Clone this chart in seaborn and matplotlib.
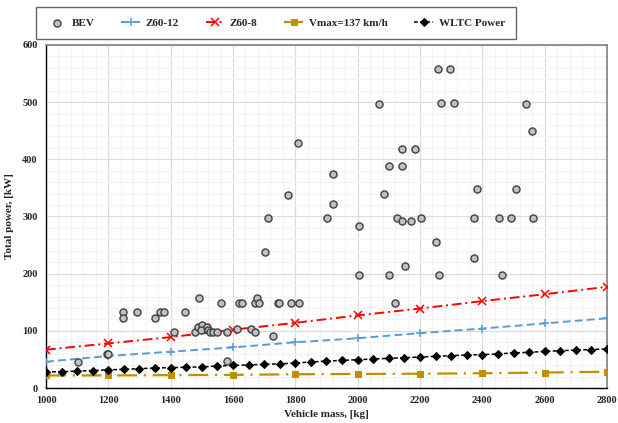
import numpy as np
import pandas as pd
import matplotlib
matplotlib.use("Agg")
import matplotlib.pyplot as plt
from matplotlib.ticker import MultipleLocator
import seaborn as sns

# ---- data ----
bev_mass = [1102, 1195, 1200, 1246, 1246, 1291, 1349, 1366, 1380, 1446, 1412, 1478,
            1491, 1489, 1502, 1498, 1516, 1519, 1527, 1535, 1548, 1562, 1580, 1580,
            1612, 1618, 1628, 1658, 1669, 1669, 1677, 1685, 1702, 1712, 1727, 1743,
            1749, 1778, 1786, 1808, 1812, 1902, 1921, 1921, 2003, 2005, 2069, 2086,
            2102, 2102, 2119, 2126, 2141, 2141, 2141, 2153, 2171, 2183, 2202, 2251,
            2257, 2262, 2268, 2297, 2308, 2372, 2372, 2383, 2452, 2463, 2492, 2509,
            2540, 2559, 2562]
bev_power = [45, 60, 60, 133, 123, 133, 123, 133, 133, 133, 98, 98,
             157, 107, 110, 102, 107, 102, 98, 98, 98, 148, 98, 47,
             104, 148, 148, 104, 98, 148, 157, 148, 238, 298, 91, 148,
             148, 338, 148, 428, 148, 298, 375, 322, 197, 284, 497, 340,
             388, 197, 148, 298, 292, 388, 418, 214, 292, 418, 298, 256,
             558, 198, 499, 558, 499, 298, 228, 348, 298, 198, 298, 348,
             497, 449, 298]

mass_200 = [1000, 1200, 1400, 1600, 1800, 2000, 2200, 2400, 2600, 2800]
z60_12 = [46, 56, 63.5, 71, 80, 87, 96, 104, 113, 122]
z60_8 = [67, 78, 89, 102, 114, 127, 139, 152, 164, 177]
vmax137 = [22, 22, 22.5, 23, 24, 24.5, 25, 25.8, 27, 28.5]

mass_50 = list(range(1000, 2801, 50))
wltc = [28, 28.6, 29.6, 30.4, 31.8, 32.7, 33.8, 35, 35.6, 36.3, 36.9, 38.4, 39.6,
        40.3, 41.4, 42.2, 43.6, 45.6, 47, 48.3, 49.5, 50.7, 51.9, 53.1, 54.2, 55.4,
        56.6, 57.7, 58.5, 59.6, 61.4, 62.4, 64, 65.2, 66.4, 67.2, 68.4]

x_ticks = list(range(1000, 2801, 200))
y_ticks = list(range(0, 601, 100))

# ---- style ----
sns.set_theme(style="white")
plt.rcParams["font.family"] = ["Liberation Serif", "DejaVu Serif"]
plt.rcParams["font.weight"] = "bold"

fig = plt.figure(figsize=(6.18, 4.23), dpi=100)
ax = fig.add_axes([46 / 618, 1 - 388 / 423, (607 - 46) / 618, (388 - 45) / 423])

ax.set_xlim(1000, 2800)
ax.set_ylim(0, 600)
ax.xaxis.set_major_locator(MultipleLocator(200))
ax.xaxis.set_minor_locator(MultipleLocator(40))
ax.yaxis.set_major_locator(MultipleLocator(100))
ax.yaxis.set_minor_locator(MultipleLocator(20))
ax.grid(which="major", color="#dcdcdc", linewidth=0.9)
ax.grid(which="minor", color="#f2f2f2", linewidth=0.7)
ax.set_axisbelow(True)

df_bev = pd.DataFrame({"mass": bev_mass, "power": bev_power})
df200 = pd.DataFrame({"mass": mass_200, "z12": z60_12, "z8": z60_8, "vmax": vmax137})
df50 = pd.DataFrame({"mass": mass_50, "wltc": wltc})

sns.lineplot(data=df200, x="mass", y="z12", ax=ax, color="#5b9bd5", linewidth=1.4,
             linestyle=(0, (4, 2.2)), marker="+", markersize=6, markeredgewidth=1.1,
             markeredgecolor="#5b9bd5", label="Z60-12", zorder=3)
sns.lineplot(data=df200, x="mass", y="z8", ax=ax, color="#ff0000", linewidth=1.4,
             linestyle=(0, (5, 2, 1, 2)), marker="x", markersize=5.5, markeredgewidth=1.1,
             markeredgecolor="#ff0000", label="Z60-8", zorder=3)
sns.lineplot(data=df200, x="mass", y="vmax", ax=ax, color="#bf9000", linewidth=1.6,
             linestyle=(0, (9, 3, 1, 3)), marker="s", markersize=4,
             markeredgecolor="#bf9000", label="Vmax=137 km/h", zorder=3)
sns.lineplot(data=df50, x="mass", y="wltc", ax=ax, color="black", linewidth=1.1,
             linestyle=(0, (2.5, 1.5)), marker="D", markersize=3.8,
             markeredgecolor="black", label="WLTC Power", zorder=4)
sns.scatterplot(data=df_bev, x="mass", y="power", ax=ax, s=26, color="#c0c0c0",
                edgecolor="#404040", linewidth=1.0, label="BEV", zorder=5)

for side in ["left", "bottom"]:
    ax.spines[side].set_color("black")
    ax.spines[side].set_linewidth(1.0)
for side in ["top", "right"]:
    ax.spines[side].set_color("#808080")
    ax.spines[side].set_linewidth(1.2)

ax.set_xticks(x_ticks)
ax.set_yticks(y_ticks)
ax.tick_params(axis="both", which="both", length=0, labelsize=7.5, pad=6)
for lab in ax.get_xticklabels() + ax.get_yticklabels():
    lab.set_fontweight("bold")
ax.set_xlabel("Vehicle mass, [kg]", fontsize=8, fontweight="bold", labelpad=4)
ax.set_ylabel("Total power, [kW]", fontsize=8, fontweight="bold", labelpad=6)
ax.xaxis.set_label_coords(0.5, -0.065)

handles, labels = ax.get_legend_handles_labels()
order = ["BEV", "Z60-12", "Z60-8", "Vmax=137 km/h", "WLTC Power"]
hmap = dict(zip(labels, handles))
if ax.get_legend():
    ax.get_legend().remove()
leg = fig.legend([hmap[k] for k in order], order, loc="center",
                 bbox_to_anchor=(276 / 618, 1 - 23 / 423), ncol=5, frameon=True,
                 fancybox=False, edgecolor="#404040",
                 handlelength=1.7, columnspacing=2.4, handletextpad=0.5,
                 borderpad=1.0, borderaxespad=0, prop={"weight": "bold", "size": 8})
leg.get_frame().set_linewidth(1.0)

fig.savefig("out.png", dpi=100)
